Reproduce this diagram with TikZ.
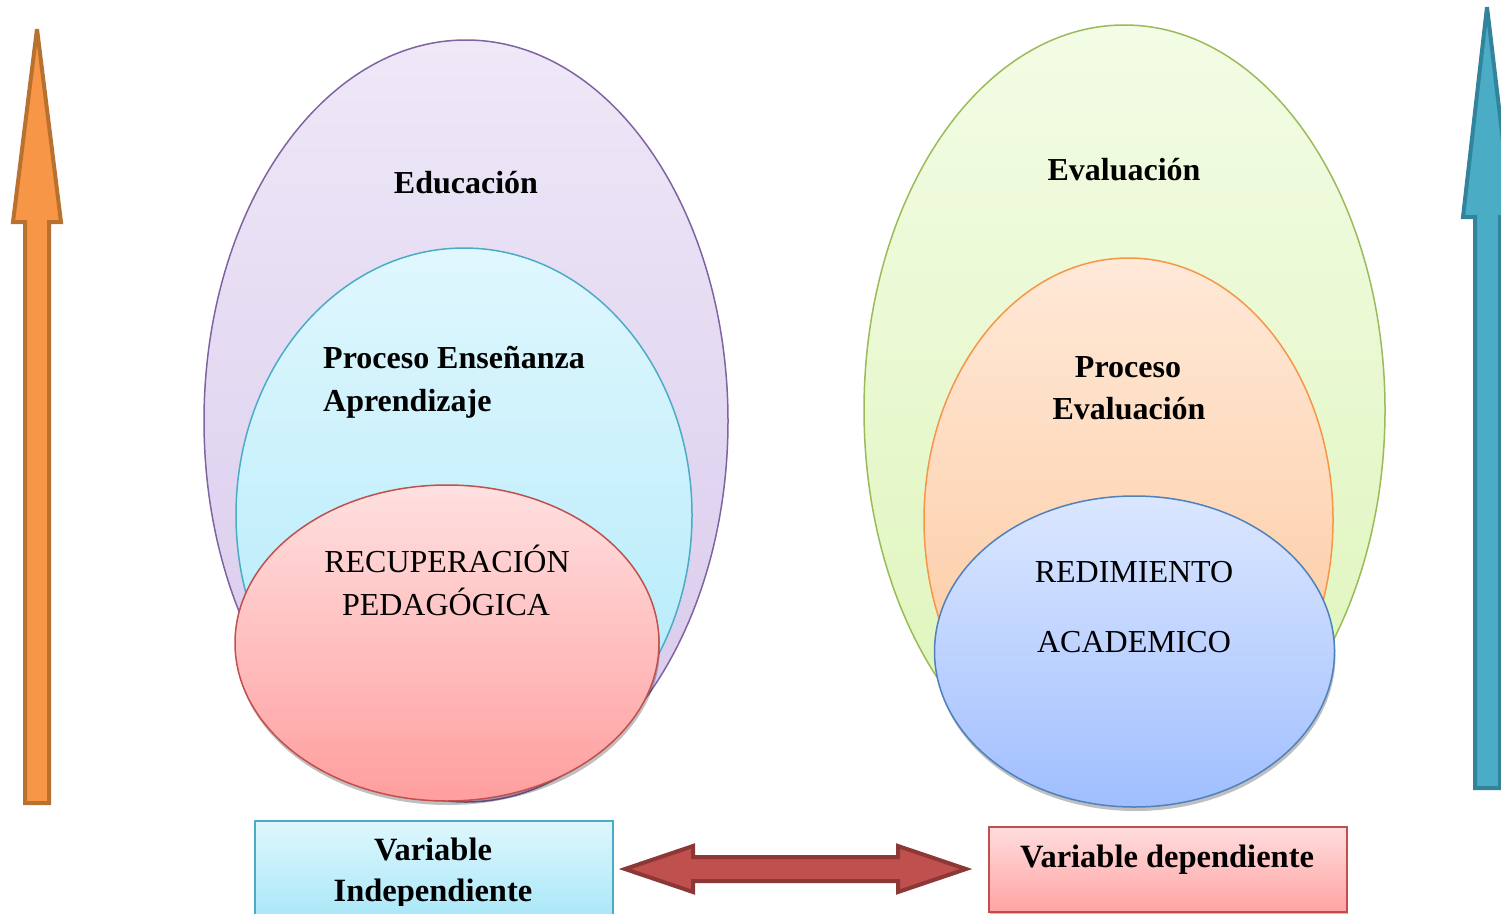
\documentclass[tikz,border=0pt]{standalone}
\usepackage{fontspec}
\setmainfont{Liberation Serif}
\usetikzlibrary{shapes.geometric,shadows}
\definecolor{purpB}{HTML}{8064A2}
\definecolor{purpT}{HTML}{EEE8F7}
\definecolor{purpL}{HTML}{D7C8EC}
\definecolor{cyanB}{HTML}{4BACC6}
\definecolor{cyanT}{HTML}{E0F7FD}
\definecolor{cyanL}{HTML}{ADE9FA}
\definecolor{redB}{HTML}{C0504D}
\definecolor{pinkT}{HTML}{FFE0E0}
\definecolor{pinkL}{HTML}{FF9E9E}
\definecolor{grnB}{HTML}{9BBB59}
\definecolor{grnT}{HTML}{F3FCE5}
\definecolor{grnL}{HTML}{DDF4B8}
\definecolor{orgB}{HTML}{F79646}
\definecolor{orgT}{HTML}{FFE9D8}
\definecolor{orgL}{HTML}{FCC598}
\definecolor{bluB}{HTML}{4F81BD}
\definecolor{bluT}{HTML}{DBE7FF}
\definecolor{bluL}{HTML}{A0BEFF}
\definecolor{orgFill}{HTML}{F79646}
\definecolor{orgStroke}{HTML}{B8712F}
\definecolor{tealFill}{HTML}{4BACC6}
\definecolor{tealStroke}{HTML}{31849B}
\definecolor{dredStroke}{HTML}{8C3836}
\definecolor{boxCT}{HTML}{DEF7FD}
\definecolor{boxCL}{HTML}{A3E5F7}
\definecolor{boxPT}{HTML}{FFDDDD}
\definecolor{boxPL}{HTML}{FFA3A3}
\tikzset{
  oval/.style={ellipse, draw, line width=1.5pt, inner sep=0pt, outer sep=0pt},
  shad/.style={general shadow={fill=black, opacity=0.25, shadow xshift=1pt, shadow yshift=-4pt}},
  bold30/.style={font=\fontsize{32}{38}\selectfont\bfseries, inner sep=0pt, anchor=base},
  boldbox/.style={font=\fontsize{32.5}{38}\selectfont\bfseries, inner sep=0pt, anchor=base},
  reg30/.style={font=\fontsize{32}{38}\selectfont, inner sep=0pt, anchor=base},
  varbox/.style={draw, line width=1.5pt},
  blockarrow/.style={line width=4pt, line join=miter, miter limit=4}
}
\begin{document}
\begin{tikzpicture}[x=1pt,y=-1pt]
\useasboundingbox (0,0) rectangle (1501,913);
% left ellipses
\node[oval, draw=purpB, top color=purpT, bottom color=purpL, minimum width=524pt, minimum height=762pt] (edu) at (466,421) {};
\node[oval, draw=cyanB, top color=cyanT, bottom color=cyanL, minimum width=456pt, minimum height=534pt] (pea) at (464,515) {};
\node[oval, draw=redB, top color=pinkT, bottom color=pinkL, minimum width=424pt, minimum height=316pt, shad] (rp) at (447,643) {};
% right ellipses
\node[oval, draw=grnB, top color=grnT, bottom color=grnL, minimum width=521pt, minimum height=770pt] (eva) at (1124.5,410) {};
\node[oval, draw=orgB, top color=orgT, bottom color=orgL, minimum width=409pt, minimum height=524pt] (pev) at (1128.5,520) {};
\node[oval, draw=bluB, top color=bluT, bottom color=bluL, minimum width=400pt, minimum height=311pt, shad] (ra) at (1134.5,651.5) {};
% texts
\node[bold30] (t1) at (466,193) {Educación};
\node[bold30, anchor=base west] (t2) at (323,368) {Proceso Enseñanza};
\node[bold30, anchor=base west] (t3) at (323,411) {Aprendizaje};
\node[reg30] (t4) at (447,572) {RECUPERACIÓN};
\node[reg30] (t5) at (446,615) {PEDAGÓGICA};
\node[bold30] (t6) at (1124,180) {Evaluación};
\node[bold30] (t7) at (1128,377) {Proceso};
\node[bold30] (t8) at (1129,419) {Evaluación};
\node[reg30] (t9) at (1134,582) {REDIMIENTO};
\node[reg30] (t10) at (1134,652) {ACADEMICO};
% vertical arrows
\draw[blockarrow, draw=orgStroke, fill=orgFill] (37,29) -- (61,222) -- (49,222) -- (49,803) -- (25,803) -- (25,222) -- (13,222) -- cycle;
\draw[blockarrow, draw=tealStroke, fill=tealFill] (1487,7) -- (1512,217) -- (1500,217) -- (1500,788) -- (1475,788) -- (1475,217) -- (1463,217) -- cycle;
% bottom boxes
\node[varbox, draw=cyanB, top color=boxCT, bottom color=boxCL, minimum width=358pt, minimum height=110pt, anchor=north west, inner sep=0pt, shad] (vi) at (254,820) {};
\node[varbox, draw=redB, top color=boxPT, bottom color=boxPL, minimum width=358pt, minimum height=85pt, anchor=north west, inner sep=0pt, shad] (vd) at (988,826) {};
\begin{scope}
\clip (254,815) rectangle (614,905);
\node[boldbox] (v1) at (433,860) {Variable};
\node[boldbox] (v2) at (433,901) {Independiente};
\end{scope}
\node[boldbox] (v3) at (1167,867) {Variable dependiente};
% double arrow
\draw[blockarrow, draw=dredStroke, fill=redB] (625,869) -- (693,846) -- (693,857) -- (898,857) -- (898,846) -- (966,869) -- (898,892) -- (898,881) -- (693,881) -- (693,892) -- cycle;
\end{tikzpicture}
\end{document}
